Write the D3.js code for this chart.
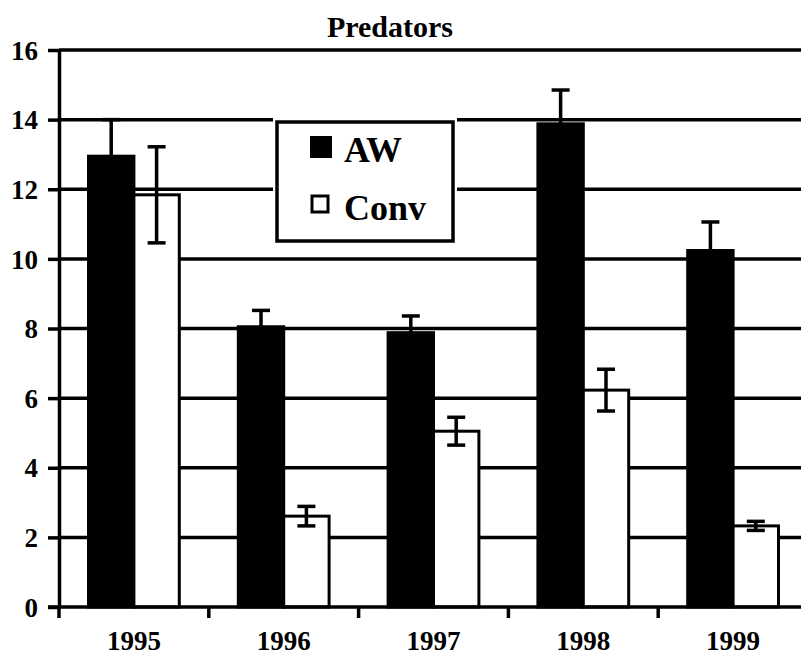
<!DOCTYPE html>
<html>
<head>
<meta charset="utf-8">
<script src="https://cdn.jsdelivr.net/npm/d3@7"></script>
<style>
  body { margin: 0; background: #fff; }
</style>
</head>
<body>
<div class="chart"></div>
<script>
const years = ["1995", "1996", "1997", "1998", "1999"];
const seriesNames = ["AW", "Conv"];
const awValues = [12.95, 8.05, 7.88, 13.88, 10.24];
const awErrors = [1.05, 0.47, 0.48, 0.97, 0.82];
const convValues = [11.84, 2.61, 5.05, 6.23, 2.33];
const convErrors = [1.38, 0.28, 0.40, 0.60, 0.13];
const yTicks = [0, 2, 4, 6, 8, 10, 12, 14, 16];

const width = 801, height = 658;
const margin = {top: 50, left: 59, bottom: 51};
const plotRight = 808;
const serif = "'Liberation Serif', 'Times New Roman', serif";

const svg = d3.select(".chart").append("svg")
    .attr("width", width)
    .attr("height", height);

const y = d3.scaleLinear()
    .domain([0, 16])
    .range([height - margin.bottom, margin.top]);

const x = d3.scaleBand()
    .domain(years)
    .range([margin.left, plotRight]);

const inner = d3.scaleBand()
    .domain(seriesNames)
    .range([0, x.bandwidth()])
    .paddingOuter(0.65)
    .paddingInner(0);

const data = years.map((yr, i) => ({
    year: yr,
    bars: [
        {key: "AW", value: awValues[i], err: awErrors[i]},
        {key: "Conv", value: convValues[i], err: convErrors[i]}
    ]
}));

// gridlines
svg.append("g")
    .attr("class", "grid")
    .selectAll("line")
    .data(yTicks.filter(d => d > 0))
    .enter().append("line")
    .attr("x1", margin.left)
    .attr("x2", plotRight)
    .attr("y1", d => y(d))
    .attr("y2", d => y(d))
    .style("stroke", "#000")
    .style("stroke-width", 3.5);

// bars
const groups = svg.append("g")
    .attr("class", "bars")
    .selectAll("g")
    .data(data)
    .enter().append("g")
    .attr("transform", d => "translate(" + x(d.year) + ",0)");

groups.selectAll("rect")
    .data(d => d.bars)
    .enter().append("rect")
    .attr("x", d => inner(d.key))
    .attr("width", inner.bandwidth())
    .attr("y", d => y(d.value))
    .attr("height", d => y(0) - y(d.value))
    .style("fill", d => d.key === "AW" ? "#000" : "#fff")
    .style("stroke", "#000")
    .style("stroke-width", 3);

// error bars
const capW = 18;
const err = groups.selectAll("g.err")
    .data(d => d.bars)
    .enter().append("g")
    .attr("class", "err")
    .attr("transform", d => "translate(" + (inner(d.key) + inner.bandwidth() / 2) + ",0)")
    .style("stroke", "#000")
    .style("stroke-width", 3.5);

err.append("line")
    .attr("x1", 0).attr("x2", 0)
    .attr("y1", d => y(d.value + d.err))
    .attr("y2", d => y(d.value - d.err));

err.append("line")
    .attr("x1", -capW / 2).attr("x2", capW / 2)
    .attr("y1", d => y(d.value + d.err))
    .attr("y2", d => y(d.value + d.err));

err.append("line")
    .attr("x1", -capW / 2).attr("x2", capW / 2)
    .attr("y1", d => y(d.value - d.err))
    .attr("y2", d => y(d.value - d.err));

// y axis
const yAxis = d3.axisLeft(y)
    .tickValues(yTicks)
    .tickSize(11)
    .tickPadding(10)
    .tickSizeOuter(0);

const yG = svg.append("g")
    .attr("class", "y axis")
    .attr("transform", "translate(" + margin.left + ",0)")
    .call(yAxis);
yG.select(".domain").style("stroke-width", 3.5);
yG.selectAll(".tick line").style("stroke-width", 3.5);
yG.selectAll(".tick text")
    .style("font-family", serif)
    .style("font-weight", "bold")
    .style("font-size", "27px")
    .attr("dy", "0.34em");

// x axis with ticks at category boundaries
const xG = svg.append("g")
    .attr("class", "x axis")
    .attr("transform", "translate(0," + y(0) + ")");

xG.append("line")
    .attr("x1", margin.left - 11)
    .attr("x2", plotRight)
    .style("stroke", "#000")
    .style("stroke-width", 3.5);

xG.selectAll("line.tick")
    .data(years)
    .enter().append("line")
    .attr("class", "tick")
    .attr("x1", d => x(d))
    .attr("x2", d => x(d))
    .attr("y1", 0)
    .attr("y2", 11)
    .style("stroke", "#000")
    .style("stroke-width", 3.5);

xG.selectAll("text")
    .data(years)
    .enter().append("text")
    .attr("x", d => x(d) + x.bandwidth() / 2)
    .attr("y", 43)
    .attr("text-anchor", "middle")
    .style("font-family", serif)
    .style("font-weight", "bold")
    .style("font-size", "27px")
    .text(d => d);

// title
svg.append("text")
    .attr("x", 390)
    .attr("y", 37)
    .attr("text-anchor", "middle")
    .style("font-family", serif)
    .style("font-weight", "bold")
    .style("font-size", "30px")
    .text("Predators");

// legend
const legend = svg.append("g")
    .attr("class", "legend")
    .attr("transform", "translate(277,122)");

legend.append("rect")
    .attr("x", -4).attr("y", -4)
    .attr("width", 184).attr("height", 127)
    .style("fill", "#fff");

legend.append("rect")
    .attr("width", 176).attr("height", 119)
    .style("fill", "#fff")
    .style("stroke", "#000")
    .style("stroke-width", 3.5);

const legendItems = legend.selectAll("g.item")
    .data(seriesNames)
    .enter().append("g")
    .attr("class", "item")
    .attr("transform", (d, i) => "translate(0," + (i * 58) + ")");

legendItems.append("rect")
    .attr("x", d => d === "AW" ? 33 : 35)
    .attr("y", d => d === "AW" ? 14 : 16)
    .attr("width", d => d === "AW" ? 22 : 16)
    .attr("height", d => d === "AW" ? 22 : 16)
    .style("fill", d => d === "AW" ? "#000" : "#fff")
    .style("stroke", d => d === "AW" ? "none" : "#000")
    .style("stroke-width", 3);

legendItems.append("text")
    .attr("x", 67)
    .attr("y", 40)
    .style("font-family", serif)
    .style("font-weight", "bold")
    .style("font-size", "36px")
    .text(d => d);
</script>
</body>
</html>
